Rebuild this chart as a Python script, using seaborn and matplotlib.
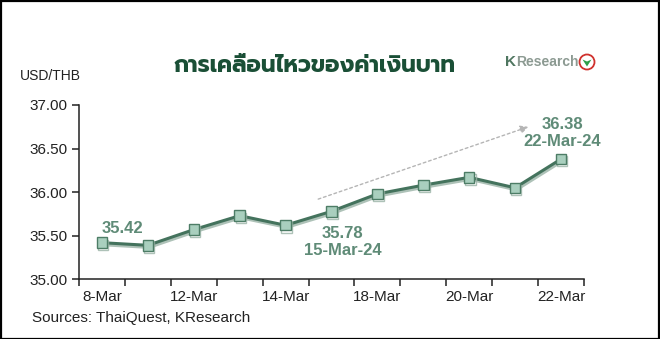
import matplotlib
matplotlib.use("Agg")
import matplotlib.pyplot as plt
import matplotlib.patheffects as pe
from matplotlib.patches import Rectangle, Ellipse, Polygon
import seaborn as sns
import pandas as pd

# ---- data ----
dates = ["8-Mar", "11-Mar", "12-Mar", "13-Mar", "14-Mar", "15-Mar",
         "18-Mar", "19-Mar", "20-Mar", "21-Mar", "22-Mar"]
rates = [35.42, 35.39, 35.57, 35.73, 35.62, 35.78,
         35.98, 36.08, 36.17, 36.05, 36.38]
tick_label_idx = [0, 2, 4, 6, 8, 10]
yticks = [35.00, 35.50, 36.00, 36.50, 37.00]
title = "การเคลื่อนไหวของค่าเงินบาท"
ylabel = "USD/THB"
source = "Sources: ThaiQuest, KResearch"
annot_first = "35.42"
annot_mid = "35.78\n15-Mar-24"
annot_last = "36.38\n22-Mar-24"
trend_start = (4.71, 35.92)
trend_end = (9.29, 36.75)

df = pd.DataFrame({"date": dates, "rate": rates, "pos": range(len(dates))})

sns.set_theme(style="white")
plt.rcParams["font.family"] = ["Liberation Sans", "DejaVu Sans"]

W, H = 660, 339
fig = plt.figure(figsize=(W / 100, H / 100), dpi=100)
ax = fig.add_axes([79 / W, 1 - 279.3 / H, (584 - 79) / W, (279.3 - 105) / H])

line_col = "#44735d"
text_col = "#5f8b77"

sns.lineplot(data=df, x="pos", y="rate", ax=ax, color=line_col, linewidth=2.2,
             marker="s", markersize=7.5, markerfacecolor="#a9cfbe",
             markeredgecolor="#4d7d66", markeredgewidth=1.0, sort=False)
ln = ax.lines[0]
ln.set_path_effects([pe.SimpleLineShadow(offset=(0.8, -1.5), shadow_color="#9ab3a6", alpha=0.8),
                     pe.Normal()])

ax.set_xlim(-0.5, len(dates) - 0.5)
ax.set_ylim(yticks[0], yticks[-1])
ax.set_xticks([i - 0.5 for i in range(len(dates) + 1)])
ax.set_xticklabels([])
ax.set_xticks(tick_label_idx, minor=True)
ax.set_xticklabels([dates[i] for i in tick_label_idx], minor=True, fontsize=11, color="#222222")
ax.tick_params(axis="x", which="major", direction="out", length=5, width=1.1, color="#222222", bottom=True)
ax.tick_params(axis="x", which="minor", length=0, pad=8)
ax.set_yticks(yticks)
ax.set_yticklabels([f"{v:.2f}" for v in yticks], fontsize=11, color="#222222")
ax.tick_params(axis="y", direction="out", length=5, width=1.1, color="#222222", left=True, pad=3)
ax.set_xlabel("")
ax.set_ylabel("")
for s in ["top", "right"]:
    ax.spines[s].set_visible(False)
for s in ["left", "bottom"]:
    ax.spines[s].set_color("#222222")
    ax.spines[s].set_linewidth(1.1)
ax.grid(False)
ax.patch.set_alpha(0)

# annotations
ax.annotate(annot_first, (0, rates[0]), xytext=(15, 10), textcoords="offset points",
            ha="center", va="center", fontsize=12, fontweight="bold", color=text_col)
ax.annotate(annot_mid, (5, rates[5]), xytext=(8, -22), textcoords="offset points",
            ha="center", va="center", fontsize=12, fontweight="bold", color=text_col,
            linespacing=1.15)
ax.annotate(annot_last, (10, rates[10]), xytext=(1, 19), textcoords="offset points",
            ha="center", va="center", fontsize=12, fontweight="bold", color=text_col,
            linespacing=1.15, annotation_clip=False)
ax.annotate("", xy=trend_end, xytext=trend_start,
            arrowprops=dict(arrowstyle="-|>", linestyle=(0, (2, 2)), color="#b5b5b5",
                            lw=1.0, mutation_scale=12, shrinkA=0, shrinkB=0))

# texts
fig.text(315 / W, 1 - 66 / H, title, ha="center", va="center", fontsize=16.5,
         fontweight="bold", color="#1a4f36", family=["Prompt", "DejaVu Sans"])
fig.text(20 / W, 1 - 76 / H, ylabel, ha="left", va="center", fontsize=10, color="#222222")
fig.text(32 / W, 1 - 318 / H, source, ha="left", va="center", fontsize=11, color="#222222")

# logo
k_txt = fig.text(505 / W, 1 - 62 / H, "K", ha="left", va="center", fontsize=11,
                 fontweight="bold", color="#4f7660")
fig.canvas.draw()
kb = k_txt.get_window_extent()
r_txt = fig.text(kb.x1 / W, 1 - 62 / H, "Research", ha="left", va="center", fontsize=10,
                 fontweight="bold", color="#8c9a92")
fig.canvas.draw()
rb = r_txt.get_window_extent()
r = 7.5
cx = rb.x1 + 1 + r
cy = H - 62
fig.patches.append(Ellipse((cx / W, cy / H), 2 * r / W, 2 * r / H, transform=fig.transFigure,
                           facecolor="white", edgecolor="#d0312d", linewidth=1.3))
fig.patches.append(Polygon([((cx - 4.5) / W, (cy + 2.5) / H), (cx / W, (cy - 4.5) / H),
                            ((cx + 4.5) / W, (cy + 2.5) / H), (cx / W, (cy + 0.5) / H)],
                           closed=True, transform=fig.transFigure, facecolor="#2e9e4a",
                           edgecolor="none"))

# border
fig.patches.append(Rectangle((0.5 / W, 0.5 / H), 1 - 1.5 / W, 1 - 1.5 / H, transform=fig.transFigure,
                             fill=False, edgecolor="black", linewidth=1.6))

fig.savefig("out.png", dpi=100)
